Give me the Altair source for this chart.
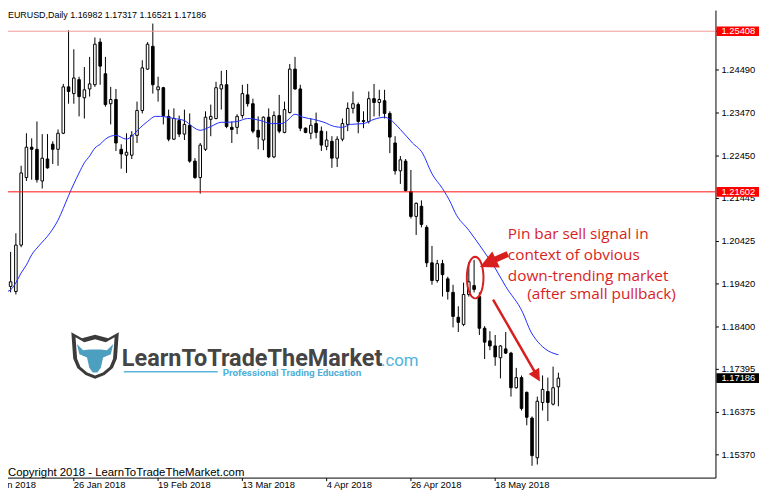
import math
import altair as alt
import pandas as pd

# ---- daily candles (EURUSD) ----
OPEN = [1.2027, 1.1971, 1.1936, 1.1924, 1.2034, 1.2194, 1.2266, 1.2261, 1.2186, 1.2238,
        1.2273, 1.2261, 1.2299, 1.2409, 1.2393, 1.2426, 1.2383, 1.2404, 1.2414, 1.2515,
        1.2440, 1.2369, 1.2379, 1.2261, 1.2247, 1.2247, 1.2294, 1.2353, 1.2451, 1.2505,
        1.2402, 1.2407, 1.2339, 1.2285, 1.2329, 1.2297, 1.2318, 1.2233, 1.2194, 1.2261,
        1.2332, 1.2334, 1.2404, 1.2414, 1.2313, 1.2313, 1.2341, 1.2390, 1.2369, 1.2306,
        1.2283, 1.2337, 1.2243, 1.2341, 1.2301, 1.2348, 1.2451, 1.2404, 1.2311, 1.2299,
        1.2322, 1.2304, 1.2268, 1.2280, 1.2240, 1.2285, 1.2320, 1.2358, 1.2367, 1.2329,
        1.2327, 1.2381, 1.2372, 1.2376, 1.2346, 1.2276, 1.2210, 1.2233, 1.2161, 1.2102,
        1.2126, 1.2076, 1.1992, 1.1950, 1.1990, 1.1954, 1.1922, 1.1863, 1.1846, 1.1917,
        1.1938, 1.1912, 1.1837, 1.1807, 1.1795, 1.1767, 1.1788, 1.1778, 1.1696, 1.1720,
        1.1685, 1.1624, 1.1530, 1.1661, 1.1687, 1.1657, 1.16982]
HIGH = [1.2034, 1.1982, 1.2018, 1.2062, 1.2222, 1.2299, 1.2287, 1.2327, 1.2297, 1.2297,
        1.2280, 1.2308, 1.2416, 1.2543, 1.2498, 1.2433, 1.2456, 1.2480, 1.2526, 1.2524,
        1.2480, 1.2409, 1.2404, 1.2273, 1.2299, 1.2304, 1.2374, 1.2472, 1.2515, 1.2559,
        1.2433, 1.2409, 1.2355, 1.2358, 1.2341, 1.2355, 1.2346, 1.2240, 1.2276, 1.2351,
        1.2367, 1.2421, 1.2447, 1.2449, 1.2327, 1.2344, 1.2414, 1.2416, 1.2381, 1.2339,
        1.2339, 1.2358, 1.2351, 1.2390, 1.2374, 1.2463, 1.2480, 1.2414, 1.2313, 1.2334,
        1.2348, 1.2315, 1.2304, 1.2292, 1.2292, 1.2334, 1.2372, 1.2398, 1.2372, 1.2351,
        1.2398, 1.2416, 1.2402, 1.2402, 1.2351, 1.2292, 1.2245, 1.2238, 1.2212, 1.2135,
        1.2140, 1.2081, 1.2032, 1.1999, 1.1999, 1.1959, 1.1940, 1.1889, 1.1945, 1.1994,
        1.1999, 1.1922, 1.1842, 1.1830, 1.1821, 1.1797, 1.1828, 1.1781, 1.1743, 1.1725,
        1.1687, 1.1628, 1.1675, 1.1725, 1.1720, 1.1746, 1.17317]
LOW = [1.1964, 1.1928, 1.1922, 1.1917, 1.2029, 1.2186, 1.2189, 1.2182, 1.2168, 1.2215,
       1.2226, 1.2222, 1.2297, 1.2369, 1.2369, 1.2339, 1.2334, 1.2386, 1.2409, 1.2414,
       1.2362, 1.2320, 1.2257, 1.2215, 1.2205, 1.2238, 1.2276, 1.2346, 1.2449, 1.2393,
       1.2374, 1.2320, 1.2280, 1.2283, 1.2290, 1.2283, 1.2229, 1.2191, 1.2156, 1.2257,
       1.2292, 1.2332, 1.2355, 1.2311, 1.2276, 1.2297, 1.2334, 1.2362, 1.2299, 1.2261,
       1.2259, 1.2240, 1.2240, 1.2299, 1.2299, 1.2346, 1.2402, 1.2304, 1.2299, 1.2285,
       1.2287, 1.2257, 1.2259, 1.2217, 1.2219, 1.2280, 1.2304, 1.2346, 1.2299, 1.2311,
       1.2322, 1.2339, 1.2339, 1.2334, 1.2252, 1.2201, 1.2179, 1.2161, 1.2097, 1.2058,
       1.2076, 1.1982, 1.1940, 1.1945, 1.1912, 1.1905, 1.1839, 1.1828, 1.1842, 1.1912,
       1.1922, 1.1821, 1.1764, 1.1785, 1.1748, 1.1718, 1.1776, 1.1675, 1.1694, 1.1642,
       1.1607, 1.1511, 1.1514, 1.1642, 1.1617, 1.1654, 1.16521]
CLOSE = [1.1971, 1.1936, 1.1947, 1.2034, 1.2205, 1.2266, 1.2261, 1.2189, 1.2240, 1.2217,
         1.2261, 1.2299, 1.2409, 1.2398, 1.2430, 1.2386, 1.2402, 1.2416, 1.2510, 1.2458,
         1.2367, 1.2379, 1.2276, 1.2250, 1.2254, 1.2294, 1.2353, 1.2454, 1.2510, 1.2414,
         1.2409, 1.2341, 1.2285, 1.2334, 1.2297, 1.2320, 1.2233, 1.2194, 1.2271, 1.2337,
         1.2339, 1.2407, 1.2414, 1.2315, 1.2308, 1.2339, 1.2393, 1.2369, 1.2304, 1.2290,
         1.2337, 1.2243, 1.2341, 1.2304, 1.2355, 1.2451, 1.2404, 1.2311, 1.2301, 1.2318,
         1.2301, 1.2271, 1.2283, 1.2240, 1.2285, 1.2322, 1.2358, 1.2369, 1.2327, 1.2327,
         1.2381, 1.2372, 1.2379, 1.2346, 1.2290, 1.2210, 1.2236, 1.2163, 1.2102, 1.2133,
         1.2083, 1.1992, 1.1950, 1.1990, 1.1964, 1.1924, 1.1865, 1.1851, 1.1917, 1.1947,
         1.1929, 1.1837, 1.1804, 1.1795, 1.1769, 1.1795, 1.1778, 1.1696, 1.1720, 1.1647,
         1.1626, 1.1535, 1.1664, 1.1692, 1.1661, 1.1696, 1.17186]

# ---- moving average (blue line) ----
MA_BAR = [0, 2, 3, 4, 5, 6, 7, 8, 9, 10,
          11, 12, 13, 14, 15, 16, 17, 18, 19, 20,
          21, 22, 24, 25, 26.5, 28, 29.5, 30.5, 33, 35,
          36.5, 38, 40, 42, 43, 45, 47, 49.5, 51.5, 53.5,
          54.5, 56, 57.5, 59.5, 61.5, 63.5, 65, 66.5, 69, 71,
          73, 74, 76, 78.3, 80.2, 82, 84, 85.6, 86.4, 89,
          91.7, 94.2, 96, 99.2, 100.8, 101.7, 103.5, 106]
MA_PRICE = [1.1919, 1.1928, 1.1945, 1.1968, 1.1987, 1.2011, 1.2027, 1.2041, 1.2055, 1.2072,
            1.2093, 1.2121, 1.2151, 1.2179, 1.2205, 1.2229, 1.2245, 1.2264, 1.2273, 1.2285,
            1.2292, 1.2294, 1.2285, 1.2292, 1.2311, 1.2327, 1.2339, 1.2339, 1.2334, 1.2329,
            1.2315, 1.2306, 1.2315, 1.2325, 1.2325, 1.2327, 1.2334, 1.2329, 1.2322, 1.2322,
            1.2329, 1.2344, 1.2337, 1.2332, 1.2325, 1.2315, 1.2313, 1.2320, 1.2322, 1.2332,
            1.2337, 1.2332, 1.2308, 1.2276, 1.2252, 1.2203, 1.2168, 1.2133, 1.2111, 1.2069,
            1.2022, 1.1975, 1.1936, 1.1875, 1.1828, 1.1811, 1.1788, 1.1774]

# ---- axes ----
TICK_BARS = [-2, 14, 30, 46, 62, 78, 94]
TICK_LABELS = ["4 Jan 2018", "26 Jan 2018", "19 Feb 2018", "13 Mar 2018",
               "4 Apr 2018", "26 Apr 2018", "18 May 2018"]
PRICE_TICKS = [1.15370, 1.16375, 1.17395, 1.18400, 1.19420, 1.20425,
               1.21445, 1.22450, 1.23470, 1.24490, 1.25405]

# ---- horizontal levels and price tags ----
LEVEL_PRICES = [1.25408, 1.21602]
LEVEL_KINDS = ["top", "mid"]
TAG_PRICES = [1.25408, 1.21602, 1.17186]
TAG_KINDS = ["level", "level", "last"]

# ---- annotation ----
NOTE_TEXT = ["Pin bar sell signal in", "context of obvious",
             "down-trending market", "(after small pullback)"]
NOTE_BAR = [96.4, 96.4, 96.4, 100.1]
NOTE_PRICE = [1.2048, 1.1999, 1.1949, 1.1907]
ARROW_TAIL_BAR = [96.4, 93.6]
ARROW_TAIL_PRICE = [1.2013, 1.1905]
ARROW_NECK_BAR = [93.5, 101.6]
ARROW_NECK_PRICE = [1.1997, 1.1732]
ARROW_TIP_BAR = [91.1, 102.5]
ARROW_TIP_PRICE = [1.1982, 1.1711]
ARROW_WIDTH = [6, 2.5]
ARROW_HEAD = [324, 150]
ARROW_ANGLE = [245, 150]
PIN_BAR = 90.2
PIN_PRICE = 1.1957

RED = "#d81e1e"
FONT = "Liberation Sans"
W, H = 715, 472          # plot area (the page's 8px margin is taken into account)
BAR_PX = 5.323           # pixels per daily bar
PX_PRICE = 0.00023447    # price per pixel

XS = alt.Scale(domain=[8 / BAR_PX, 723 / BAR_PX], nice=False, zero=False, padding=0)
YS = alt.Scale(domain=[1.14830, 1.26085 - 8 * PX_PRICE], nice=False, zero=False, padding=0)

candles = pd.DataFrame({"bar": list(range(len(OPEN))), "open": OPEN, "high": HIGH,
                        "low": LOW, "close": CLOSE})
ma = pd.DataFrame({"bar": MA_BAR, "price": MA_PRICE})
levels = pd.DataFrame({"price": LEVEL_PRICES, "kind": LEVEL_KINDS})
tags = pd.DataFrame({"price": TAG_PRICES, "kind": TAG_KINDS})
notes = pd.DataFrame({"t": NOTE_TEXT, "bar": NOTE_BAR, "price": NOTE_PRICE})
arrows = pd.DataFrame({"tb": ARROW_TAIL_BAR, "tp": ARROW_TAIL_PRICE,
                       "nb": ARROW_NECK_BAR, "np": ARROW_NECK_PRICE,
                       "hb": ARROW_TIP_BAR, "hp": ARROW_TIP_PRICE,
                       "w": ARROW_WIDTH, "sz": ARROW_HEAD, "ang": ARROW_ANGLE})
pin = pd.DataFrame({"bar": [PIN_BAR], "price": [PIN_PRICE]})
xt = pd.DataFrame({"bar": TICK_BARS, "lab": TICK_LABELS})
yt = pd.DataFrame({"price": PRICE_TICKS})
one = pd.DataFrame({"a": [0]})


def xq(f):
    return alt.X(f, type="quantitative", scale=XS, axis=None)


def yq(f):
    return alt.Y(f, type="quantitative", scale=YS, axis=None)


# ---- axes drawn as marks (MT4 style: price scale on the right) ----
x_domain = alt.Chart(one).mark_rule(color="black", strokeWidth=1).encode(
    x=alt.value(0), x2=alt.value(W + 0.5), y=alt.value(H + 0.5))
y_domain = alt.Chart(one).mark_rule(color="black", strokeWidth=1).encode(
    x=alt.value(W + 0.5), y=alt.value(0), y2=alt.value(H + 0.5))
x_ticks = alt.Chart(xt).mark_rule(color="black", strokeWidth=1).encode(
    x=xq("bar"), y=alt.value(H + 0.5), y2=alt.value(H + 3.5))
x_labels = alt.Chart(xt).mark_text(align="left", baseline="top", font=FONT,
                                   fontSize=9.5, color="black").encode(
    x=xq("bar"), y=alt.value(H + 3), text="lab:N")
y_ticks = alt.Chart(yt).mark_rule(color="black", strokeWidth=1).encode(
    y=yq("price"), x=alt.value(W + 0.5), x2=alt.value(W + 3.5))
y_labels = alt.Chart(yt).transform_calculate(
    lab="format(datum.price, '.5f')").mark_text(
    align="left", baseline="middle", font=FONT, fontSize=9.5, color="black").encode(
    x=alt.value(W + 6), y=yq("price"), text="lab:N")

# ---- candles ----
wicks = alt.Chart(candles).mark_rule(color="black", strokeWidth=1).encode(
    x=xq("bar"), y=yq("low"), y2="high")

bodies = alt.Chart(candles).mark_bar(width=2.6, stroke="black", strokeWidth=1).encode(
    x=xq("bar"), y=yq("open"), y2="close",
    fill=alt.condition("datum.close >= datum.open", alt.value("white"), alt.value("black")))

ma_line = alt.Chart(ma).mark_line(color="#1f2dff", strokeWidth=1, interpolate="monotone").encode(
    x=xq("bar"), y=yq("price"))

level_lines = alt.Chart(levels).mark_rule(strokeWidth=1).encode(
    y=yq("price"),
    color=alt.Color("kind:N", scale=alt.Scale(domain=["top", "mid"],
                                              range=["#f39a9a", "#ff1010"]), legend=None))

# ellipse outline round the pin bar
pts = []
for k in range(40):
    a = 2 * math.pi * k / 40
    pts.append("%.3f,%.3f" % (0.4 * math.sin(a), -math.cos(a)))
ELLIPSE = "M" + " L".join(pts) + " Z"

ring = alt.Chart(pin).mark_point(shape=ELLIPSE, size=1764, filled=False, stroke=RED,
                                 strokeWidth=2, opacity=1).encode(
    x=xq("bar"), y=yq("price"))

shafts = alt.Chart(arrows).mark_rule(color=RED, strokeCap="butt").encode(
    x=xq("tb"), y=yq("tp"), x2="nb", y2="np",
    strokeWidth=alt.StrokeWidth("w:Q", scale=None))

heads = alt.Chart(arrows).mark_point(shape="M0,0 L1,2 L-1,2 Z", filled=True, color=RED,
                                     opacity=1).encode(
    x=xq("hb"), y=yq("hp"),
    size=alt.Size("sz:Q", scale=None), angle=alt.Angle("ang:Q", scale=None))

note_text = alt.Chart(notes).mark_text(align="left", baseline="alphabetic", font="Open Sans",
                                       fontSize=15.5, color=RED).encode(
    x=xq("bar"), y=yq("price"), text="t:N")

# ---- price tags on the right scale ----
tag_rects = alt.Chart(tags).transform_calculate(
    top="datum.price + 0.00115", bot="datum.price - 0.00115").mark_rect().encode(
    x=alt.value(W + 1), x2=alt.value(W + 44), y=yq("top:Q"), y2="bot:Q",
    fill=alt.Color("kind:N", scale=alt.Scale(domain=["level", "last"],
                                             range=["#ff0000", "#000000"]), legend=None))
tag_text = alt.Chart(tags).transform_calculate(
    lab="format(datum.price, '.5f')").mark_text(
    align="left", baseline="middle", font=FONT, fontSize=9.5,
    color="white").encode(x=alt.value(W + 6), y=yq("price"), text="lab:N")

# ---- header, copyright and watermark logo ----
header = alt.Chart(one).mark_text(
    text="EURUSD,Daily  1.16982 1.17317 1.16521 1.17186", align="left", baseline="top",
    font=FONT, fontSize=9, color="black").encode(
    x=alt.value(0), y=alt.value(0))
copyright_t = alt.Chart(one).mark_text(
    text="Copyright 2018 - LearnToTradeTheMarket.com", align="left",
    baseline="alphabetic", font=FONT, fontSize=11.5, color="black").encode(
    x=alt.value(0), y=alt.value(470))

SHIELD = ("M-1,-0.95 L-0.55,-0.7 L0,-0.85 L0.55,-0.7 L1,-0.95 L0.92,0.15 L0.75,0.55 "
          "L0.4,0.85 L0,1 L-0.4,0.85 L-0.75,0.55 L-0.92,0.15 Z")
BULL = ("M-0.95,-0.62 L-0.62,-0.3 L-0.3,-0.33 L0.3,-0.33 L0.62,-0.3 L0.95,-0.62 "
        "L0.82,-0.08 L0.42,0.08 L0.3,0.62 L0.12,0.86 L-0.12,0.86 L-0.3,0.62 "
        "L-0.42,0.08 L-0.82,-0.08 Z")
shield_outer = alt.Chart(one).mark_point(shape=SHIELD, size=2304, filled=True,
                                         color="#3b3b3b", opacity=1).encode(
    x=alt.value(88), y=alt.value(348))
shield_inner = alt.Chart(one).mark_point(shape=SHIELD, size=1560, filled=True,
                                         color="white", opacity=1).encode(
    x=alt.value(88), y=alt.value(349))
bull = alt.Chart(one).mark_point(shape=BULL, size=1500, filled=True,
                                 color="#4d9fc0", opacity=1).encode(
    x=alt.value(88), y=alt.value(349))
brand = alt.Chart(one).mark_text(text="LearnToTradeTheMarket", align="left",
                                 baseline="alphabetic", font="Roboto", fontWeight="bold",
                                 fontSize=23.7, color="#454545").encode(
    x=alt.value(115), y=alt.value(359))
dotcom = alt.Chart(one).mark_text(text=".com", align="left", baseline="alphabetic",
                                  font="Roboto", fontSize=17, color="#4fb3da").encode(
    x=alt.value(377), y=alt.value(359))
brand_rule = alt.Chart(one).mark_rule(color="#5ab4da", strokeWidth=1.5).encode(
    x=alt.value(117), x2=alt.value(212), y=alt.value(365))
tagline = alt.Chart(one).mark_text(text="Professional Trading Education", align="left",
                                   baseline="alphabetic", font="Roboto", fontWeight="bold",
                                   fontSize=10, color="#4fb0d8").encode(
    x=alt.value(217), y=alt.value(369.5))

chart = alt.layer(
    x_domain, y_domain, x_ticks, x_labels, y_ticks, y_labels,
    wicks, bodies, ma_line, level_lines, ring, shafts, heads, note_text,
    shield_outer, shield_inner, bull, brand, dotcom, brand_rule, tagline,
    header, copyright_t, tag_rects, tag_text
).properties(
    width=W, height=H,
    autosize=alt.AutoSizeParams(type="none"),
    padding={"left": 0, "top": 0, "right": 44, "bottom": 17},
).configure(background="white").configure_view(stroke=None)

chart.save("out.html", embed_options={"renderer": "svg", "actions": False})
